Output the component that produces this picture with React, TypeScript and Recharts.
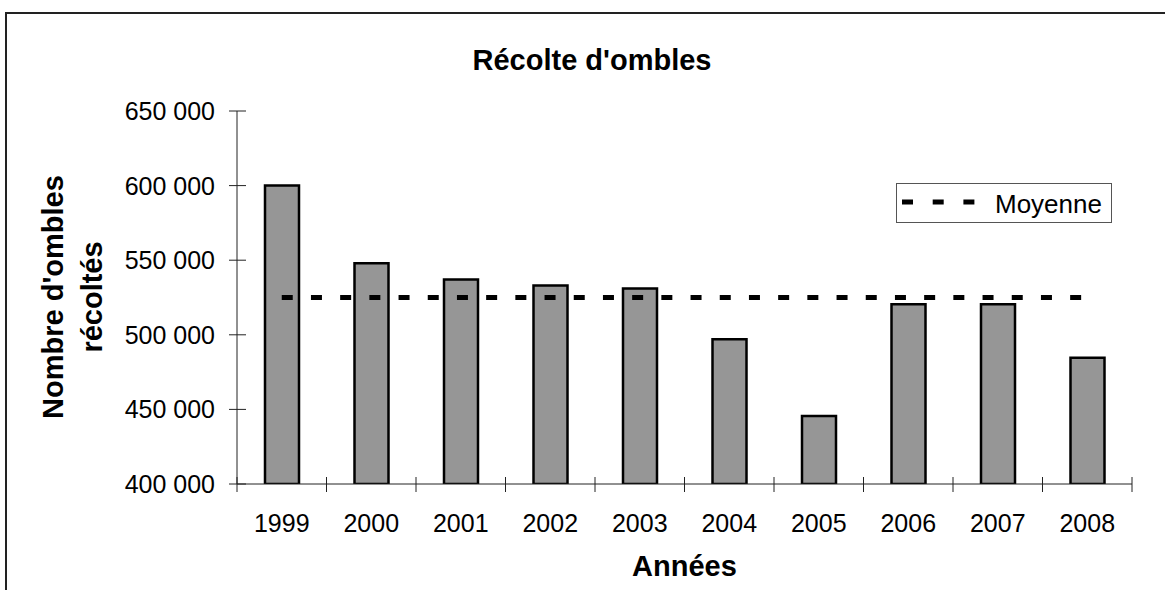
import React from "react";
import {
  ComposedChart,
  Bar,
  Line,
  XAxis,
  YAxis,
  Legend,
} from "recharts";

const years = ["1999", "2000", "2001", "2002", "2003", "2004", "2005", "2006", "2007", "2008"];
const recolte = [600000, 548000, 537000, 533000, 531000, 497000, 445500, 520500, 520500, 484600];
const moyenne = [525000, 525000, 525000, 525000, 525000, 525000, 525000, 525000, 525000, 525000];
const yTicks = [400000, 450000, 500000, 550000, 600000, 650000];

const data = years.map((y, i) => ({ annee: y, recolte: recolte[i], moyenne: moyenne[i] }));

// page coordinates (body margin removed)
const W = 1160;
const H = 590;
const M = { top: 111, right: 28, left: 0, bottom: 0 };
const Y_AXIS_W = 237;
const X_AXIS_H = 106;
const PLOT_W = W - M.right - Y_AXIS_W;
const BAND = PLOT_W / years.length;

const FONT = "'Liberation Sans', Arial, Helvetica, sans-serif";
const AXIS_COLOR = "#222";

const fmt = (v: number) => `${Math.floor(v / 1000)} ${String(v % 1000).padStart(3, "0")}`;

function YTick(props: any) {
  const { x, y, payload } = props;
  return (
    <g>
      <line x1={x - 8} x2={x + 9} y1={y} y2={y} stroke={AXIS_COLOR} strokeWidth={1} />
      <text x={x - 22} y={y} dy="0.36em" textAnchor="end" fontSize={25} fontFamily={FONT} fill="#000">
        {fmt(payload.value)}
      </text>
    </g>
  );
}

function XTick(props: any) {
  const { x, y, payload, index } = props;
  const left = x - BAND / 2;
  return (
    <g>
      <line x1={left} x2={left} y1={y - 7} y2={y + 8} stroke={AXIS_COLOR} strokeWidth={1} />
      {index === years.length - 1 && (
        <line x1={x + BAND / 2} x2={x + BAND / 2} y1={y - 7} y2={y + 8} stroke={AXIS_COLOR} strokeWidth={1} />
      )}
      <text x={x} y={y + 48} textAnchor="middle" fontSize={25} fontFamily={FONT} fill="#000">
        {payload.value}
      </text>
    </g>
  );
}

function LegendBox() {
  return (
    <svg width={216} height={40} style={{ display: "block" }}>
      <rect x={0.5} y={0.5} width={215} height={39} fill="#fff" stroke="#555" strokeWidth={1} />
      <line x1={6} x2={80} y1={19} y2={19} stroke="#000" strokeWidth={5} strokeDasharray="11 19.7" />
      <text x={99} y={30} fontSize={26} fontFamily={FONT} fill="#000">
        Moyenne
      </text>
    </svg>
  );
}

export default function App() {
  return (
    <div style={{ position: "relative", width: W, height: H }}>
      <style>{`html,body{margin:0;padding:0;overflow:hidden;background:#fff}`}</style>
      <div
        style={{
          position: "absolute",
          left: 5,
          top: 12,
          width: 1160,
          height: 582,
          borderTop: "2px solid #222",
          borderLeft: "2px solid #222",
          boxSizing: "border-box",
          pointerEvents: "none",
        }}
      />
      <svg
        width={1165}
        height={594}
        style={{ position: "absolute", left: 0, top: 0, pointerEvents: "none" }}
      >
        <text x={592} y={70} textAnchor="middle" fontSize={29} fontWeight="bold" fontFamily={FONT}>
          Récolte d'ombles
        </text>
        <text x={684.5} y={576} textAnchor="middle" fontSize={29} fontWeight="bold" fontFamily={FONT}>
          Années
        </text>
        <text
          transform="translate(63,297) rotate(-90)"
          textAnchor="middle"
          fontSize={29}
          fontWeight="bold"
          fontFamily={FONT}
        >
          Nombre d'ombles
        </text>
        <text
          transform="translate(102,297) rotate(-90)"
          textAnchor="middle"
          fontSize={29}
          fontWeight="bold"
          fontFamily={FONT}
        >
          récoltés
        </text>
      </svg>
      <ComposedChart width={W} height={H} data={data} margin={M}>
        <XAxis
          dataKey="annee"
          height={X_AXIS_H}
          stroke={AXIS_COLOR}
          tickLine={false}
          tickSize={0}
          tickMargin={0}
          interval={0}
          tick={<XTick />}
        />
        <YAxis
          width={Y_AXIS_W}
          domain={[400000, 650000]}
          ticks={yTicks}
          allowDataOverflow
          stroke={AXIS_COLOR}
          tickLine={false}
          tickSize={0}
          tickMargin={0}
          interval={0}
          tick={<YTick />}
        />
        <Legend
          layout="horizontal"
          verticalAlign="middle"
          align="center"
          wrapperStyle={{ position: "absolute", left: 896, top: 183, width: 216, height: 40 }}
          content={() => <LegendBox />}
        />
        <Bar
          dataKey="recolte"
          barSize={34}
          fill="#969696"
          stroke="#000"
          strokeWidth={2.5}
          isAnimationActive={false}
        />
        <Line
          dataKey="moyenne"
          type="linear"
          stroke="#000"
          strokeWidth={5}
          strokeDasharray="11 18.2"
          dot={false}
          activeDot={false}
          isAnimationActive={false}
        />
      </ComposedChart>
    </div>
  );
}
